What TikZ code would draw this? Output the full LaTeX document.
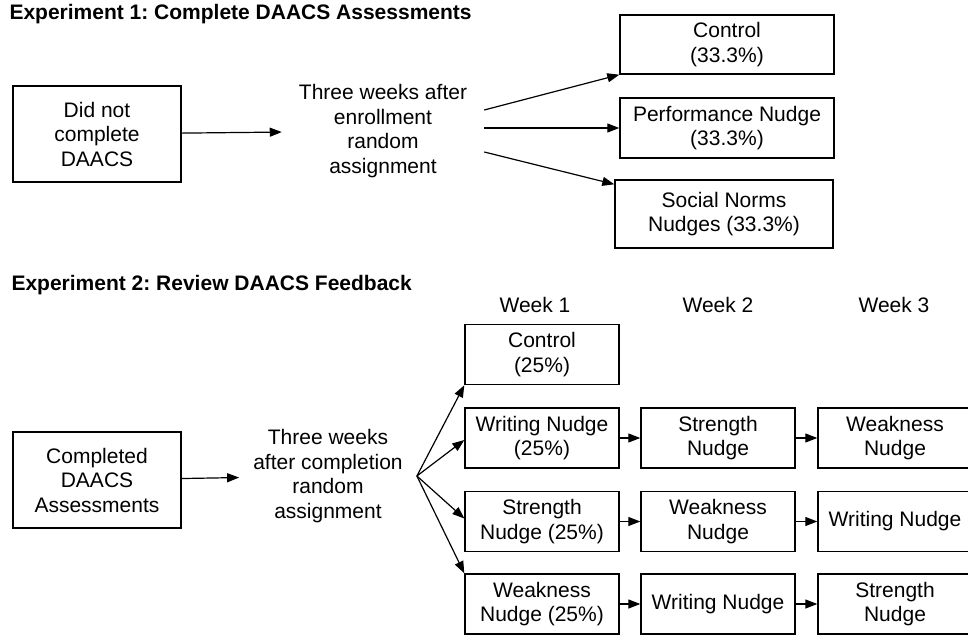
\documentclass[tikz,border=0pt]{standalone}
\usepackage{fontspec}
\setmainfont{Liberation Sans}
\usetikzlibrary{arrows.meta}
\frenchspacing

\begin{document}
\begin{tikzpicture}
[x=1pt,y=-1pt,font=\fontsize{21}{24.5}\selectfont,
  boxdecorate/.style={shape=rectangle,draw,line width=1.4pt,align=center,inner sep=0pt},
  textdecorate/.style={align=center,inner ysep=0pt},
  headdecorate/.style={anchor=west,font=\fontsize{21}{24}\selectfont\bfseries},
  linedecorate/.style={-{Triangle[length=12pt,width=9pt]},line width=1.2pt}]
\clip (0,0) rectangle (968,636);
\fill[white] (0,0) rectangle (968,636);
%% titles
\node (titleone) at (6,14) [headdecorate] {Experiment 1: Complete DAACS Assessments};
\node (titletwo) at (8,285) [headdecorate] {Experiment 2: Review DAACS Feedback};
%% experiment 1
\node (notdone) at (97,134) [boxdecorate,minimum width=168pt,minimum height=96pt] {Did not\\complete\\DAACS};
\node (assignone) at (383,131) [textdecorate,inner xsep=17pt] {Three weeks after\\enrollment\\random\\assignment};
\node (ctrlone) at (727,44.5) [boxdecorate,minimum width=214pt,minimum height=59pt] {Control\\(33.3\%)};
\node (perfone) at (727,128) [boxdecorate,minimum width=214pt,minimum height=60pt] {Performance Nudge\\(33.3\%)};
\node (socialone) at (724,214) [boxdecorate,minimum width=218pt,minimum height=68pt] {Social Norms\\Nudges (33.3\%)};
\path (notdone) edge[linedecorate] (assignone)
  ([yshift=21pt]assignone.east) edge[linedecorate] (ctrlone.south west)
  ([yshift=3pt]assignone.east) edge[linedecorate] (perfone.west)
  ([yshift=-21pt]assignone.east) edge[linedecorate] ([yshift=-5pt]socialone.north west);
%% experiment 2
\node (done) at (97,480) [boxdecorate,minimum width=168pt,minimum height=96pt] {Completed\\DAACS\\Assessments};
\node (assigntwo) at (328,476) [textdecorate,inner xsep=14pt] {Three weeks\\after completion\\random\\assignment};
\foreach \nodename/\x/\txt in {weekone/535/Week 1, weektwo/718/Week 2, weekthree/894/Week 3} {
  \node (\nodename) at (\x,305) {\txt};
}
%% week boxes
\foreach \nodename/\x/\y/\txt in {
  ctrltwo/542/354.5/{Control\\(25\%)},
  writeone/542/438/{Writing Nudge\\(25\%)},
  strone/542/521.5/{Strength\\Nudge (25\%)},
  weakone/542/604/{Weakness\\Nudge (25\%)},
  strtwo/718/438/{Strength\\Nudge},
  weaktwo/718/521.5/{Weakness\\Nudge},
  writetwo/718/604/{Writing Nudge},
  weakthree/895/438/{Weakness\\Nudge},
  writethree/895/521.5/{Writing Nudge},
  strthree/895/604/{Strength\\Nudge}} {
  \node (\nodename) at (\x,\y) [boxdecorate,minimum width=154pt,minimum height=60pt] {\txt};
}
%% edges
\path (done) edge[linedecorate] (assigntwo)
  (assigntwo.east) edge[linedecorate] (ctrltwo.south west)
  (assigntwo.east) edge[linedecorate] ([yshift=-2pt]writeone.west)
  (assigntwo.east) edge[linedecorate] ([yshift=3pt]strone.west)
  (assigntwo.east) edge[linedecorate] (weakone.north west);
\path
\foreach \startnode/\endnode in {writeone/strtwo, strtwo/weakthree, strone/weaktwo,
  weaktwo/writethree, weakone/writetwo, writetwo/strthree} {
  (\startnode) edge[linedecorate] (\endnode)
};
\end{tikzpicture}
\end{document}
